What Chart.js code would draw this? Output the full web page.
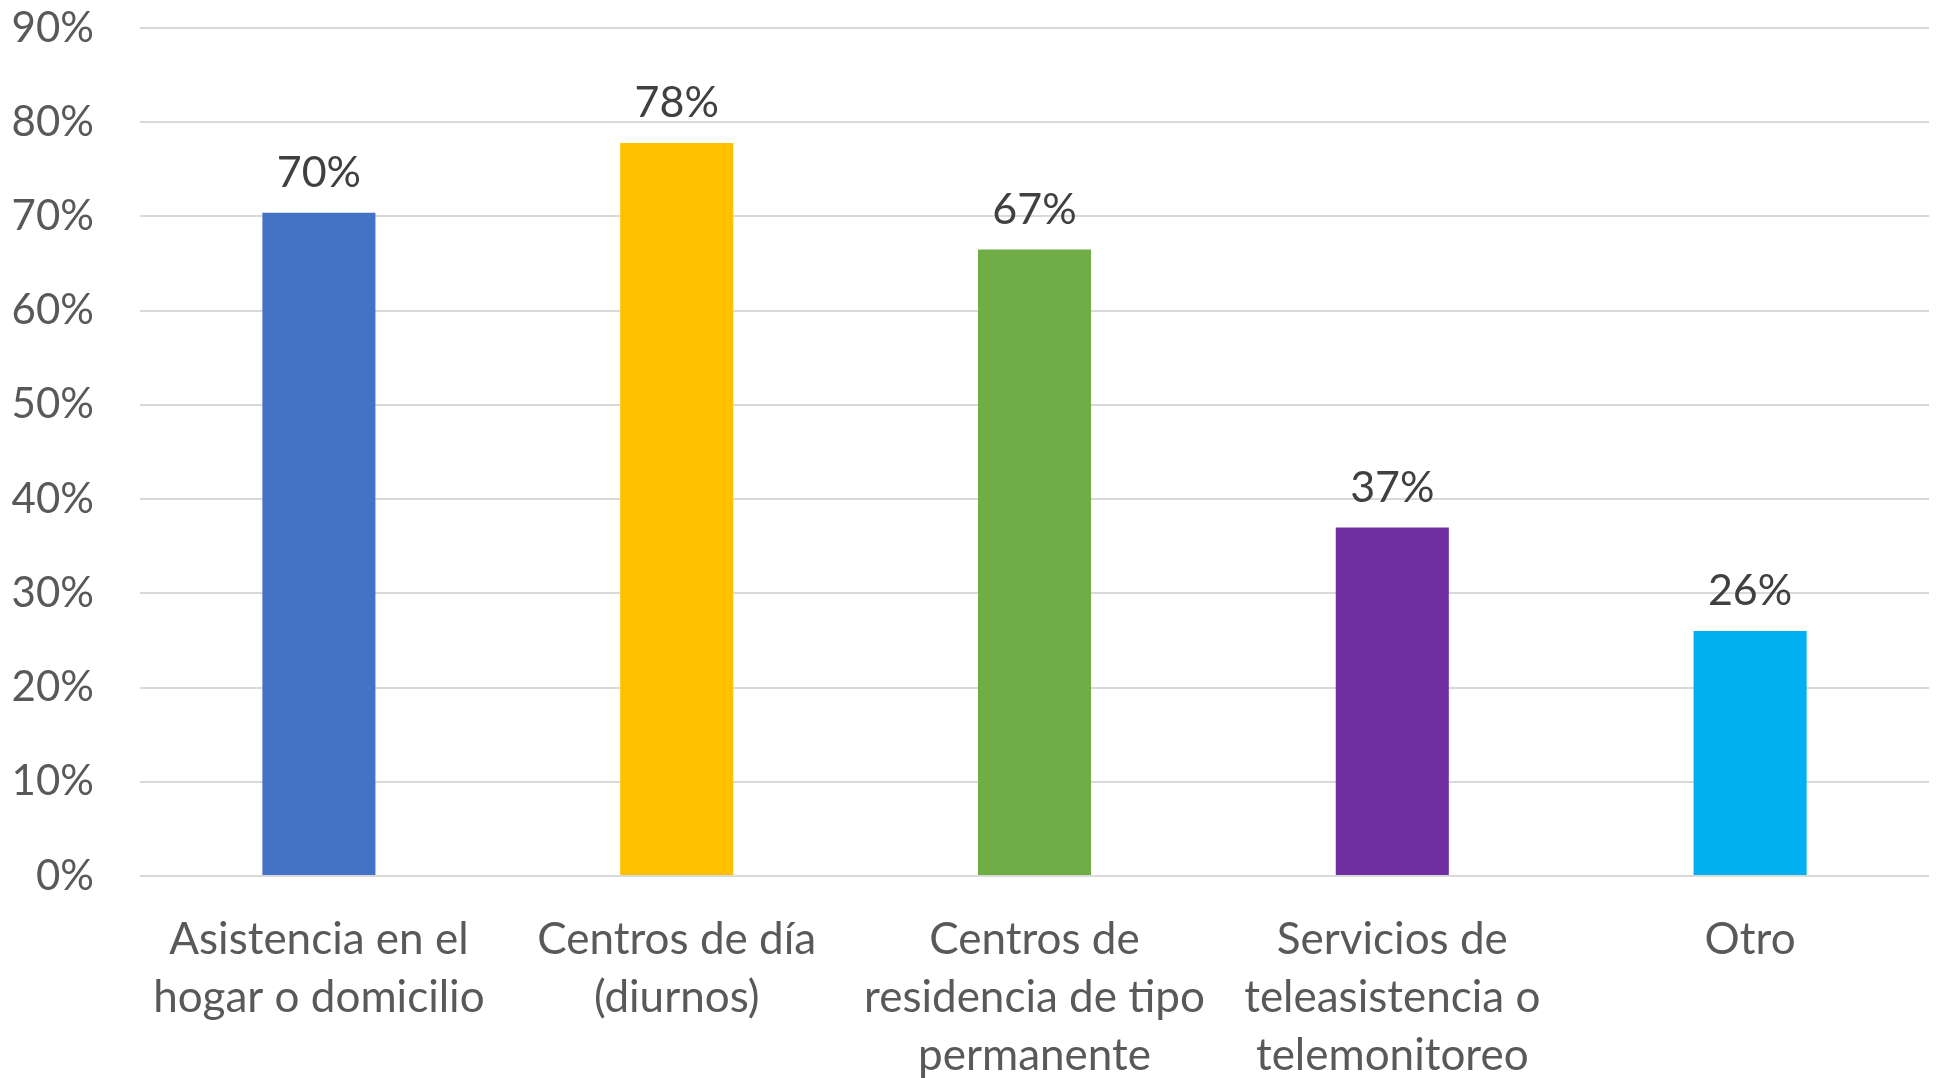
<!DOCTYPE html>
<html>
<head>
<meta charset="utf-8">
<script src="https://cdn.jsdelivr.net/npm/chart.js@4"></script>
<style>
  html, body { margin: 0; padding: 0; background: #fff; }
  #wrap { width: 1939px; height: 1078px; }
</style>
</head>
<body>
<div id="wrap"><canvas id="servChart"></canvas></div>
<script>
// chart data
var categories = [
    ['Asistencia en el', 'hogar o domicilio'],
    ['Centros de día', '(diurnos)'],
    ['Centros de', 'residencia de tipo', 'permanente'],
    ['Servicios de', 'teleasistencia o', 'telemonitoreo'],
    'Otro'
];
var values = [70.4, 77.8, 66.5, 37, 26];
var valueLabels = ['70%', '78%', '67%', '37%', '26%'];
var barColors = ['#4472C4', '#FFC000', '#70AD47', '#7030A0', '#00B0F0'];
var yTicks = [0, 10, 20, 30, 40, 50, 60, 70, 80, 90];

var fontFamily = 'Lato, "Open Sans", sans-serif';

// draws the value above each bar
var barLabels = {
    id: 'barLabels',
    afterDatasetsDraw: function (chart) {
        var ctx = chart.ctx;
        var meta = chart.getDatasetMeta(0);
        ctx.save();
        ctx.font = '43px ' + fontFamily;
        ctx.fillStyle = '#404040';
        ctx.textAlign = 'center';
        ctx.textBaseline = 'bottom';
        meta.data.forEach(function (bar, i) {
            ctx.fillText(valueLabels[i], bar.x, bar.y - 18);
        });
        ctx.restore();
    }
};

var ctx = document.getElementById('servChart').getContext('2d');

var servChart = new Chart(ctx, {
    type: 'bar',
    data: {
        labels: categories,
        datasets: [{
            data: values,
            backgroundColor: barColors,
            borderWidth: 0,
            barPercentage: 0.316,
            categoryPercentage: 1
        }]
    },
    options: {
        responsive: true,
        maintainAspectRatio: false,
        animation: false,
        devicePixelRatio: 1,
        layout: { padding: { top: 28, right: 10, bottom: 0, left: 12 } },
        plugins: {
            legend: { display: false },
            tooltip: { enabled: false }
        },
        scales: {
            y: {
                min: 0,
                max: 90,
                afterBuildTicks: function (axis) {
                    axis.ticks = yTicks.map(function (v) { return { value: v }; });
                },
                afterFit: function (axis) {
                    axis.width = 128;
                    axis.paddingTop = 0;
                    axis.paddingBottom = 0;
                },
                border: { display: false },
                grid: { color: '#d9d9d9', lineWidth: 2, drawTicks: false },
                ticks: {
                    padding: 46,
                    color: '#595959',
                    font: { family: fontFamily, size: 42 },
                    callback: function (v) { return v + '%'; }
                }
            },
            x: {
                afterFit: function (axis) { axis.height = 202; },
                border: { display: false },
                grid: { display: false },
                ticks: {
                    maxRotation: 0,
                    autoSkip: false,
                    padding: 27,
                    color: '#595959',
                    font: { family: fontFamily, size: 44, lineHeight: 1.32 }
                }
            }
        }
    },
    plugins: [barLabels]
});
</script>
</body>
</html>
